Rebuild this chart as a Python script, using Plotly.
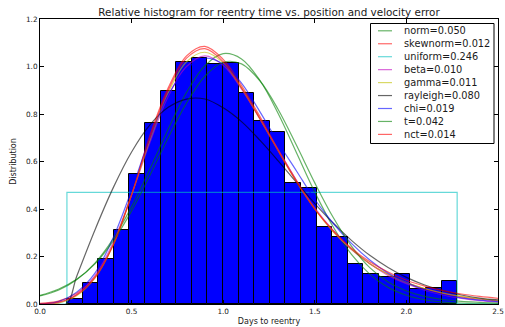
import plotly.graph_objects as go

# Histogram (relative / density)
bin_edges = [0.147, 0.2322, 0.3174, 0.4026, 0.4878, 0.573, 0.6582, 0.7434, 0.8286,
             0.9138, 0.999, 1.0842, 1.1694, 1.2546, 1.3398, 1.425, 1.5102, 1.5954,
             1.6806, 1.7658, 1.851, 1.9362, 2.0214, 2.1066, 2.1918, 2.277]
hist_heights = [0.02, 0.09, 0.19, 0.31, 0.547, 0.763, 0.897, 1.018, 1.036, 1.011,
                1.016, 0.89, 0.77, 0.724, 0.511, 0.487, 0.326, 0.283, 0.167, 0.125,
                0.115, 0.126, 0.063, 0.066, 0.097]

# Fitted pdf curves, sampled at x_grid
x_grid = [0.0, 0.1, 0.2, 0.3, 0.4, 0.5, 0.6, 0.7, 0.8, 0.9, 1.0, 1.1, 1.2,
          1.3, 1.4, 1.5, 1.6, 1.7, 1.8, 1.9, 2.0, 2.1, 2.2, 2.3, 2.4, 2.5]

norm_y = [0.034, 0.058, 0.102, 0.172, 0.275, 0.41, 0.569, 0.737, 0.891, 1.003, 1.054,
          1.032, 0.942, 0.802, 0.637, 0.471, 0.325, 0.209, 0.126, 0.07, 0.037, 0.018,
          0.008, 0.0034, 0.0013, 0.0005]
skewnorm_y = [0.003, 0.012, 0.045, 0.115, 0.25, 0.46, 0.71, 0.91, 1.045, 1.085, 1.03,
              0.92, 0.79, 0.65, 0.52, 0.40, 0.305, 0.23, 0.17, 0.125, 0.09, 0.064,
              0.044, 0.03, 0.02, 0.013]
beta_y = [0.0, 0.005, 0.04, 0.12, 0.26, 0.46, 0.68, 0.875, 1.0, 1.045, 1.005, 0.905,
          0.78, 0.65, 0.52, 0.405, 0.31, 0.23, 0.17, 0.12, 0.085, 0.058, 0.038, 0.024,
          0.014, 0.008]
gamma_y = [0.0, 0.004, 0.035, 0.11, 0.25, 0.46, 0.69, 0.89, 1.02, 1.06, 1.015, 0.91,
           0.78, 0.645, 0.515, 0.40, 0.305, 0.23, 0.17, 0.125, 0.09, 0.065, 0.046,
           0.032, 0.022, 0.015]
chi_y = [0.0, 0.01, 0.05, 0.13, 0.28, 0.48, 0.70, 0.88, 0.99, 1.035, 1.01, 0.93, 0.81,
         0.68, 0.56, 0.44, 0.34, 0.255, 0.185, 0.13, 0.09, 0.06, 0.04, 0.026, 0.016, 0.01]
t_y = [0.036, 0.062, 0.104, 0.169, 0.266, 0.392, 0.542, 0.70, 0.847, 0.959, 1.018,
       1.011, 0.94, 0.819, 0.668, 0.51, 0.365, 0.244, 0.153, 0.093, 0.055, 0.032,
       0.019, 0.011, 0.007, 0.004]
nct_y = [0.001, 0.008, 0.038, 0.11, 0.25, 0.46, 0.70, 0.90, 1.035, 1.075, 1.02, 0.91,
         0.78, 0.645, 0.515, 0.40, 0.31, 0.235, 0.178, 0.135, 0.10, 0.075, 0.056,
         0.042, 0.032, 0.024]

rayleigh_x = [0.0, 0.143, 0.2, 0.3, 0.4, 0.5, 0.6, 0.7, 0.8, 0.9, 1.0, 1.1, 1.2, 1.3,
              1.4, 1.5, 1.6, 1.7, 1.8, 1.9, 2.0, 2.1, 2.2, 2.3, 2.4, 2.5]
rayleigh_y = [0.0, 0.0, 0.116, 0.312, 0.49, 0.64, 0.754, 0.828, 0.863, 0.863, 0.826,
              0.768, 0.69, 0.603, 0.512, 0.423, 0.341, 0.268, 0.205, 0.154, 0.112,
              0.08, 0.056, 0.038, 0.025, 0.017]

uniform_x = [0.0, 0.147, 0.147, 2.277, 2.277, 2.5]
uniform_y = [0.0, 0.0, 0.47, 0.47, 0.0, 0.0]

labels = ["norm=0.050", "skewnorm=0.012", "uniform=0.246", "beta=0.010", "gamma=0.011",
          "rayleigh=0.080", "chi=0.019", "t=0.042", "nct=0.014"]

A = 0.6
col = {
    "g": f"rgba(0,128,0,{A})",
    "r": f"rgba(255,0,0,{A})",
    "c": f"rgba(0,191,191,{A})",
    "m": f"rgba(191,0,191,{A})",
    "y": f"rgba(191,191,0,{A})",
    "k": f"rgba(0,0,0,{A})",
    "b": f"rgba(0,0,255,{A})",
}
TXT = "#1a1a1a"

centers = [(bin_edges[i] + bin_edges[i + 1]) / 2 for i in range(len(hist_heights))]
widths = [bin_edges[i + 1] - bin_edges[i] for i in range(len(hist_heights))]

fig = go.Figure()
fig.add_trace(go.Bar(x=centers, y=hist_heights, width=widths, showlegend=False,
                     marker=dict(color="#0000ff", line=dict(color="black", width=1))))

series = [
    (x_grid, norm_y, labels[0], "g", "spline"),
    (x_grid, skewnorm_y, labels[1], "r", "spline"),
    (uniform_x, uniform_y, labels[2], "c", "linear"),
    (x_grid, beta_y, labels[3], "m", "spline"),
    (x_grid, gamma_y, labels[4], "y", "spline"),
    (rayleigh_x, rayleigh_y, labels[5], "k", "spline"),
    (x_grid, chi_y, labels[6], "b", "spline"),
    (x_grid, t_y, labels[7], "g", "spline"),
    (x_grid, nct_y, labels[8], "r", "spline"),
]
for xs, ys, name, c, shape in series:
    fig.add_trace(go.Scatter(x=xs, y=ys, mode="lines", name=name, showlegend=False,
                             line=dict(color=col[c], width=1.2, shape=shape)))

# Compact legend (matplotlib style) built from paper-positioned shapes and text
L, T, W, H = 40, 19, 458, 285          # plot area in pixels
px = lambda x: (x - L) / W
py = lambda y: (T + H - y) / H
shapes = [dict(type="rect", xref="paper", yref="paper", x0=px(370.5), x1=px(494),
               y0=py(143.5), y1=py(23.5), line=dict(color="black", width=1),
               fillcolor="white", layer="above")]
annotations = []
for i, (_, _, name, c, _) in enumerate(series):
    yc = 30.8 + 12.95 * i
    shapes.append(dict(type="line", xref="paper", yref="paper", x0=px(378), x1=px(392),
                       y0=py(yc), y1=py(yc), line=dict(color=col[c], width=1.2),
                       layer="above"))
    annotations.append(dict(text=name, xref="paper", yref="paper", x=px(401.5),
                            y=py(yc), xanchor="left", yanchor="middle", showarrow=False,
                            font=dict(size=9.8, color=TXT)))

axis_common = dict(showline=True, linecolor="black", linewidth=1, mirror="allticks",
                   ticks="inside", ticklen=4, tickcolor="black", showgrid=False,
                   zeroline=False, automargin=False, tickfont=dict(size=7.3, color=TXT))

fig.update_layout(
    width=505, height=327,
    margin=dict(l=40, r=7, t=19, b=23),
    paper_bgcolor="white", plot_bgcolor="white",
    font=dict(family="DejaVu Sans", size=9, color=TXT),
    title=dict(text="Relative histogram for reentry time vs. position and velocity error",
               x=0.5, xref="paper", y=1 - 12.7 / 327, yref="container", xanchor="center",
               yanchor="middle", font=dict(size=10.4, color=TXT)),
    bargap=0,
    showlegend=False,
    shapes=shapes,
    annotations=annotations,
    xaxis=dict(range=[0, 2.5], tickvals=[0, 0.5, 1.0, 1.5, 2.0, 2.5],
               ticktext=["0.0", "0.5", "1.0", "1.5", "2.0", "2.5"],
               title=dict(text="Days to reentry", font=dict(size=8, color=TXT), standoff=3),
               **axis_common),
    yaxis=dict(range=[0, 1.2], tickvals=[0, 0.2, 0.4, 0.6, 0.8, 1.0, 1.2],
               ticktext=["0.0", "0.2", "0.4", "0.6", "0.8", "1.0", "1.2"],
               title=dict(text="Distribution", font=dict(size=8, color=TXT), standoff=8),
               **axis_common),
)

fig.write_html("out.html")
